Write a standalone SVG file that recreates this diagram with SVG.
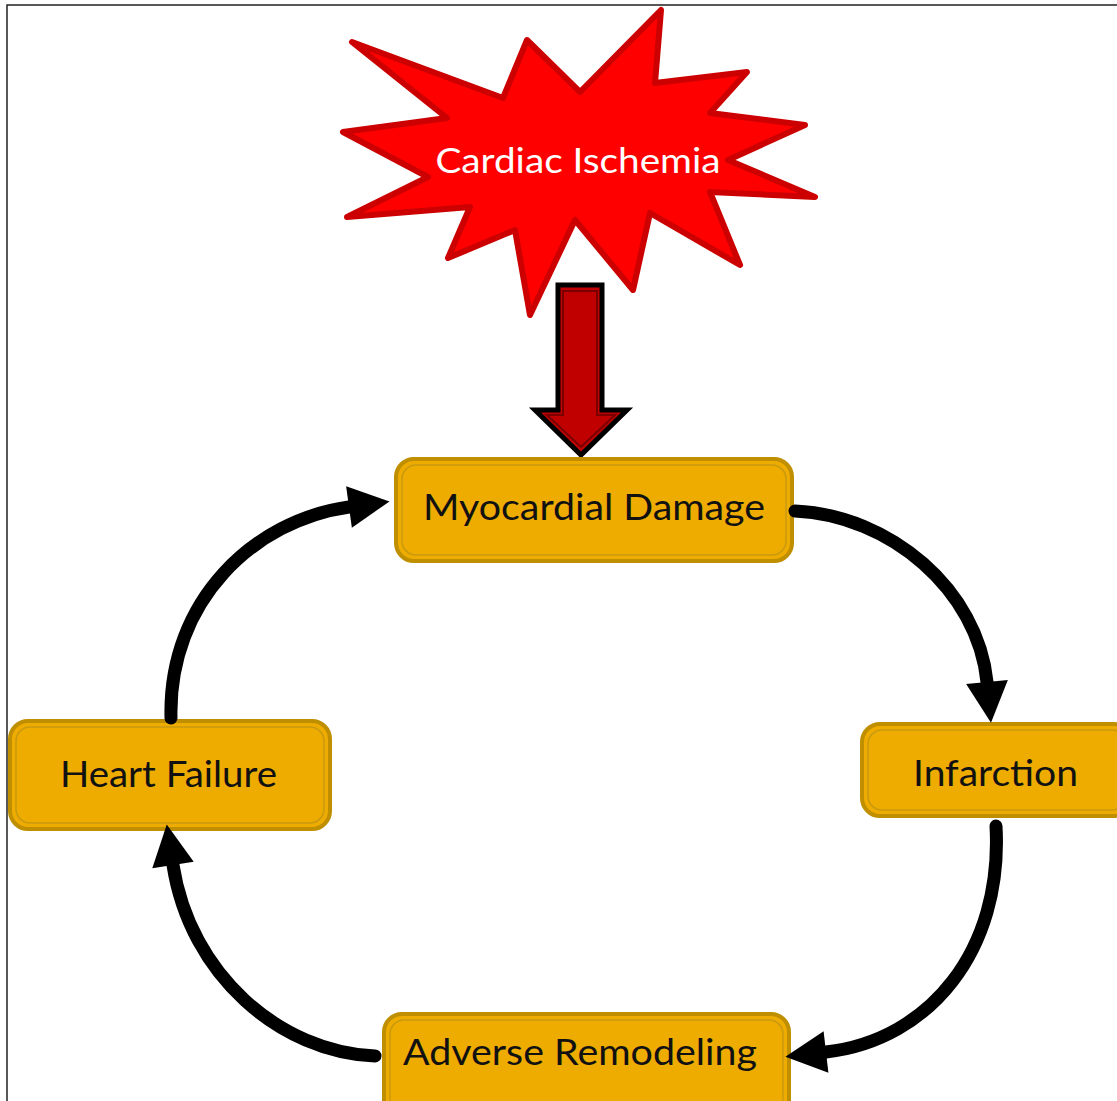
<svg xmlns="http://www.w3.org/2000/svg" width="1117" height="1101" viewBox="0 0 1117 1101">
<style>
.box{fill:#EEAB00;stroke:#BF8F00;stroke-width:4}
.inner{fill:none;stroke:#C99A10;stroke-width:1.5}
.lbl{font-family:Lato,"Open Sans",sans-serif;font-size:36px;fill:#111}
.conn{fill:none;stroke:#000;stroke-width:13;stroke-linecap:round}
</style>
<defs>
<marker id="ah" markerUnits="userSpaceOnUse" markerWidth="44" markerHeight="44" viewBox="0 -21 40 42" refX="0" refY="0" orient="auto">
<path d="M0,-20 L39,0 L0,20 z" fill="#000"/>
</marker>
</defs>
<rect width="1117" height="1101" fill="#fff"/>
<rect x="7" y="5" width="1125" height="1110" fill="none" stroke="#222" stroke-width="1.5"/>

<g id="cardiac-ischemia">
<polygon points="352,42 503,98 527,40 580,92 661,10 655,83 747,72 710,113 805,125 728,160 815,197 710,192 740,265 650,213 633,290 575,220 530,315 515,230 448,258 470,207 347,217 428,177 343,132 447,118" fill="#FF0000" stroke="#CC0000" stroke-width="6" stroke-linejoin="round"/>
<text x="578" y="173" text-anchor="middle" font-family="Lato,'Open Sans',sans-serif" font-size="35" fill="#fff" textLength="285" lengthAdjust="spacingAndGlyphs">Cardiac Ischemia</text>
</g>

<g id="down-arrow">
<polygon points="558,285 602,285 602,410 627,410 581,455 535,410 558,410" fill="#C00000" stroke="#000" stroke-width="5" stroke-linejoin="miter"/>
<polygon points="563,291 597,291 597,415 615,415 581,447 547,415 563,415" fill="none" stroke="#7A0000" stroke-width="2"/>
</g>

<g id="myocardial-damage">
<rect class="box" x="396" y="459" width="396" height="102" rx="18"/>
<rect class="inner" x="402" y="465" width="384" height="90" rx="14"/>
<text class="lbl" x="423" y="520" textLength="342" lengthAdjust="spacingAndGlyphs">Myocardial Damage</text>
</g>

<g id="infarction">
<rect class="box" x="862" y="724" width="270" height="92" rx="18"/>
<rect class="inner" x="868" y="730" width="258" height="80" rx="14"/>
<text class="lbl" x="913" y="786" textLength="165" lengthAdjust="spacingAndGlyphs">Infarction</text>
</g>

<g id="heart-failure">
<rect class="box" x="10" y="721" width="320" height="108" rx="18"/>
<rect class="inner" x="16" y="727" width="308" height="96" rx="14"/>
<text class="lbl" x="60" y="787" textLength="217" lengthAdjust="spacingAndGlyphs">Heart Failure</text>
</g>

<g id="adverse-remodeling">
<rect class="box" x="384" y="1014" width="405" height="110" rx="18"/>
<rect class="inner" x="390" y="1020" width="393" height="98" rx="14"/>
<text class="lbl" x="403" y="1065" textLength="354" lengthAdjust="spacingAndGlyphs">Adverse Remodeling</text>
</g>

<g id="connectors">
<path class="conn" d="M795,511 C890,515 978,590 987,682" marker-end="url(#ah)"/>
<path class="conn" d="M996,826 C1003,950 930,1040 826,1052" marker-end="url(#ah)"/>
<path class="conn" d="M375,1056 C280,1052 190,975 173,865" marker-end="url(#ah)"/>
<path class="conn" d="M171,718 C168,600 255,520 349,507" marker-end="url(#ah)"/>
</g>
</svg>
